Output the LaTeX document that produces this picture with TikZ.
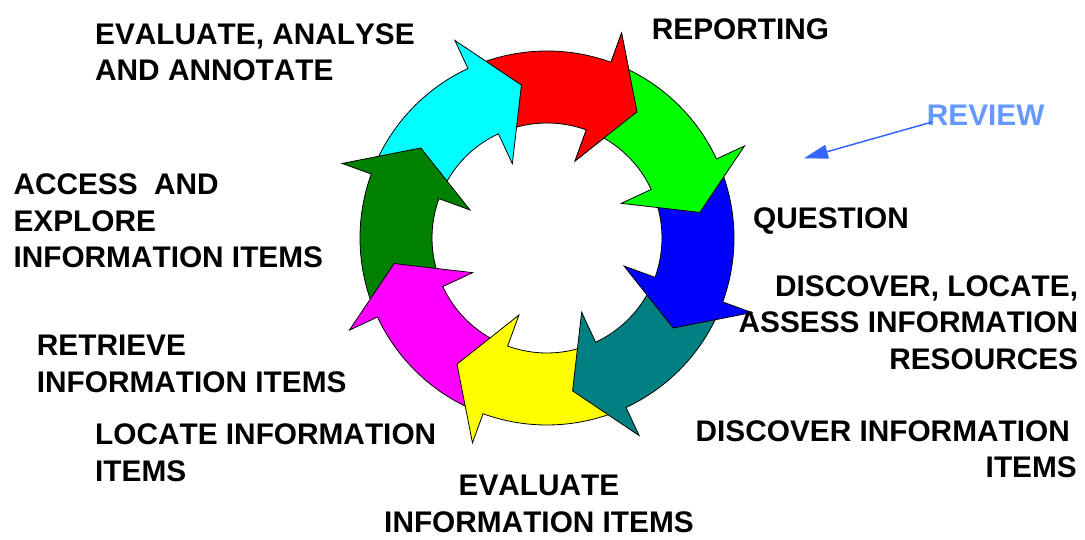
\documentclass[tikz,border=0pt]{standalone}
\usepackage{xcolor}
\usepackage{fontspec}
\setmainfont[Kerning=Off]{Liberation Sans}
\usetikzlibrary{arrows.meta}
\definecolor{arrred}{RGB}{255,0,0}
\definecolor{arrcyan}{RGB}{0,255,255}
\definecolor{arrgreen}{RGB}{0,255,0}
\definecolor{arrblue}{RGB}{0,0,255}
\definecolor{arrteal}{RGB}{0,128,128}
\definecolor{arryellow}{RGB}{255,255,0}
\definecolor{arrmagenta}{RGB}{255,0,255}
\definecolor{arrdarkgreen}{RGB}{0,128,0}
\definecolor{reviewtext}{RGB}{102,153,255}
\definecolor{reviewline}{RGB}{51,102,255}
\tikzset{
  lbl/.style={font=\fontsize{29.8}{36.7}\selectfont\bfseries, inner sep=0pt},
  ringarrow/.style={draw=black, line width=0.8pt, line join=miter}
}
\begin{document}
\begin{tikzpicture}[x=1pt,y=1pt]
\useasboundingbox (0,0) rectangle (1085,540);
% the ring of arrows
\begin{scope}[shift={(547,302)}]
\foreach \a/\col in {70/arrred,115/arrcyan,160/arrdarkgreen,-155/arrmagenta,-110/arryellow,-65/arrteal,-20/arrblue,25/arrgreen}
  \filldraw[ringarrow, fill=\col] (\a+42:187) arc[start angle=\a+42, end angle=\a, radius=187]
    -- (\a:218) -- (\a-15.5:155) -- (\a:82) -- (\a:115)
    arc[start angle=\a, end angle=\a+42, radius=115] -- cycle;
% red head once more, over the green tail
\filldraw[ringarrow, fill=arrred] (70:187) -- (70:218) -- (54.5:155) -- (70:82) -- (70:115);
\end{scope}
\node[lbl, anchor=north west, align=left] (evaluate) at (95,516.7) {EVALUATE, ANALYSE\\AND ANNOTATE};
\node[lbl, anchor=north west] (reporting) at (651.7,521.7) {REPORTING};
\node[lbl, anchor=north west, text=reviewtext] (review) at (926.7,435) {REVIEW};
\node[lbl, anchor=north west] (question) at (753,333) {QUESTION};
\node[lbl, anchor=north east, align=right] (discover) at (1078.3,265) {DISCOVER, LOCATE,\\ASSESS INFORMATION\\RESOURCES};
\node[lbl, anchor=north east, align=right] (items) at (1077,120) {DISCOVER INFORMATION\hspace*{7pt}\\ITEMS};
\node[lbl, anchor=north, align=center] (evalitems) at (539,65) {EVALUATE\\INFORMATION ITEMS};
\node[lbl, anchor=north west, align=left] (locate) at (95,116.7) {LOCATE INFORMATION\\ITEMS};
\node[lbl, anchor=north west, align=left] (retrieve) at (36.7,205) {RETRIEVE\\INFORMATION ITEMS};
\node[lbl, anchor=north west, align=left] (access) at (13.3,366.7) {ACCESS\ \ AND\\EXPLORE\\INFORMATION ITEMS};
% review pointer
\coordinate (reviewto) at (804,381.7);
\draw[reviewline, line width=1.5pt, -{Triangle[length=24pt,width=14pt]}] ([shift={(5,3.8)}]review.south west) -- (reviewto);
\end{tikzpicture}
\end{document}
